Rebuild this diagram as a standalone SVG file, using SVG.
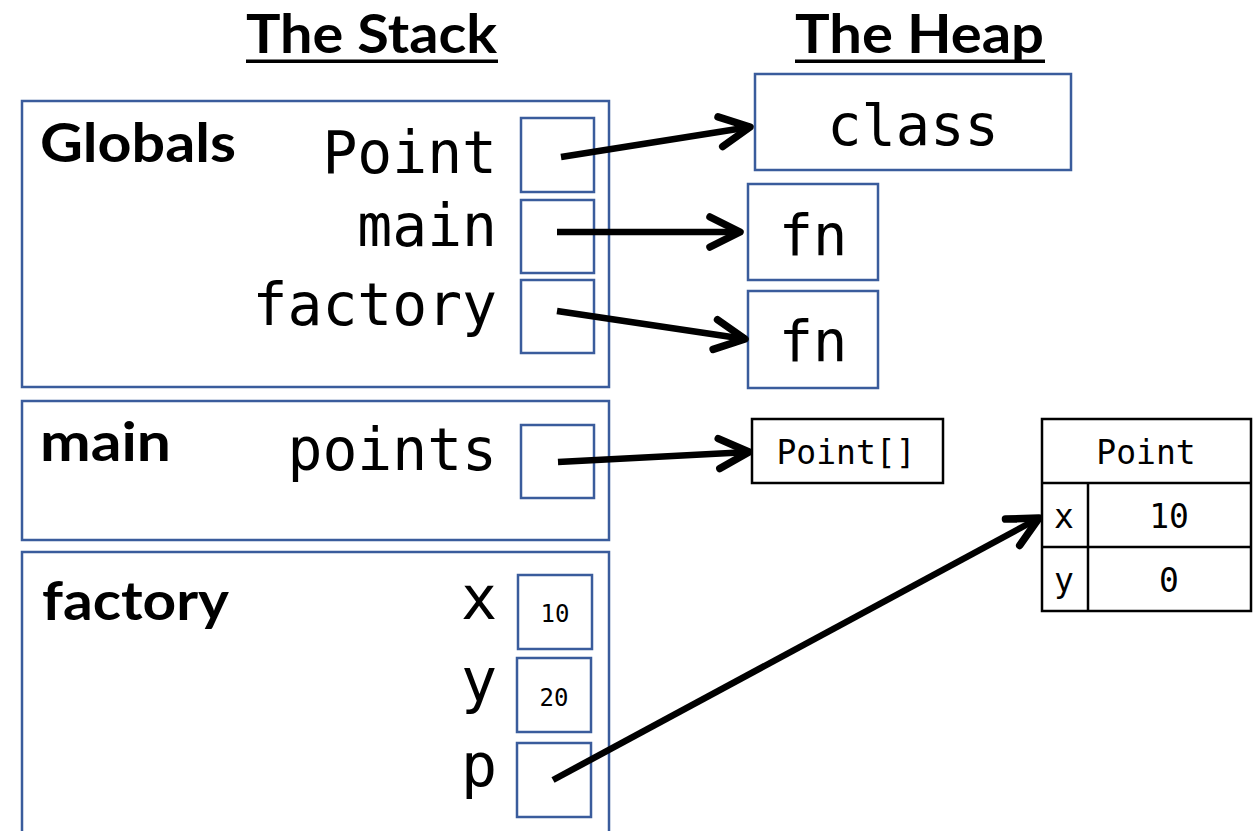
<svg xmlns="http://www.w3.org/2000/svg" width="1253" height="831" viewBox="0 0 1253 831">
<style>
.frame{fill:#fff;stroke:#3A5C9C;stroke-width:2.5}
.slot{fill:#fff;stroke:#3A5C9C;stroke-width:2.5}
.obj{fill:#fff;stroke:#000;stroke-width:2.5}
.title{font-family:Lato,"Liberation Sans",sans-serif;font-weight:bold;font-size:53px;fill:#000}
.fname{font-family:Lato,"Liberation Sans",sans-serif;font-weight:bold;font-size:54px;fill:#000}
.var{font-family:"DejaVu Sans Mono","Liberation Mono",monospace;font-size:58px;fill:#000;text-anchor:end}
.lv{font-family:"DejaVu Sans Mono","Liberation Mono",monospace;font-size:60px;fill:#000;text-anchor:end}
.big{font-family:"DejaVu Sans Mono","Liberation Mono",monospace;font-size:57px;fill:#000;text-anchor:middle}
.small{font-family:"DejaVu Sans Mono","Liberation Mono",monospace;font-size:24px;fill:#000;text-anchor:middle}
.mid{font-family:"DejaVu Sans Mono","Liberation Mono",monospace;font-size:33px;fill:#000;text-anchor:middle}
.ptr{stroke:#000;stroke-width:6.5;fill:none;marker-end:url(#head)}
</style>
<defs>
<marker id="head" markerUnits="userSpaceOnUse" markerWidth="50" markerHeight="50" viewBox="-40 -25 50 50" refX="0" refY="0" orient="auto">
<path d="M-30,-15 L0,0 L-30,15" fill="none" stroke="#000" stroke-width="7.5" stroke-linecap="round" stroke-linejoin="round"/>
</marker>
</defs>
<rect width="1253" height="831" fill="#fff"/>
<g id="titles">
<text class="title" x="246" y="53" textLength="251" lengthAdjust="spacingAndGlyphs">The Stack</text>
<rect x="246" y="59.5" width="252" height="3.5" fill="#000"/>
<text class="title" x="795" y="53" textLength="249" lengthAdjust="spacingAndGlyphs">The Heap</text>
<rect x="795" y="59.5" width="250" height="3.5" fill="#000"/>
</g>
<g id="globals">
<rect class="frame" x="22" y="101" width="587" height="286"/>
<text class="fname" x="40" y="162" textLength="196" lengthAdjust="spacingAndGlyphs">Globals</text>
<text class="var" x="497" y="173">Point</text>
<text class="var" x="497" y="246">main</text>
<text class="var" x="497" y="325">factory</text>
<rect class="slot" x="521" y="118" width="73" height="74"/>
<rect class="slot" x="521" y="200" width="73" height="73"/>
<rect class="slot" x="521" y="280" width="73" height="73"/>
</g>
<g id="main-frame">
<rect class="frame" x="22" y="401" width="587" height="139"/>
<text class="fname" x="40" y="461" textLength="131" lengthAdjust="spacingAndGlyphs">main</text>
<text class="var" x="497" y="470">points</text>
<rect class="slot" x="521" y="425" width="73" height="73"/>
</g>
<g id="factory-frame">
<rect class="frame" x="22" y="552" width="587" height="300"/>
<text class="fname" x="42" y="620" textLength="187" lengthAdjust="spacingAndGlyphs">factory</text>
<text class="lv" x="497" y="619">x</text>
<text class="lv" x="497" y="701">y</text>
<text class="lv" x="497" y="786">p</text>
<rect class="slot" x="518" y="575" width="74" height="74"/>
<text class="small" x="555" y="622">10</text>
<rect class="slot" x="517" y="658" width="74" height="74"/>
<text class="small" x="554" y="706">20</text>
<rect class="slot" x="517" y="743" width="74" height="74"/>
</g>
<g id="heap-class">
<rect class="slot" x="755" y="74" width="316" height="96"/>
<text class="big" x="913" y="145">class</text>
</g>
<g id="heap-fn-main">
<rect class="slot" x="748" y="184" width="130" height="96"/>
<text class="big" x="813" y="255">fn</text>
</g>
<g id="heap-fn-factory">
<rect class="slot" x="748" y="291" width="130" height="97"/>
<text class="big" x="813" y="361">fn</text>
</g>
<g id="heap-point-array">
<rect class="obj" x="752" y="419" width="191" height="64"/>
<text class="mid" x="846" y="464">Point[]</text>
</g>
<g id="heap-point-object">
<rect class="obj" x="1042" y="419" width="209" height="192"/>
<line x1="1042" y1="483" x2="1251" y2="483" stroke="#000" stroke-width="2.5"/>
<line x1="1042" y1="547" x2="1251" y2="547" stroke="#000" stroke-width="2.5"/>
<line x1="1088" y1="483" x2="1088" y2="611" stroke="#000" stroke-width="2.5"/>
<text class="mid" x="1146" y="464">Point</text>
<text class="mid" x="1064" y="528">x</text>
<text class="mid" x="1169" y="528">10</text>
<text class="mid" x="1064" y="592">y</text>
<text class="mid" x="1169" y="592">0</text>
</g>
<g id="connectors">
<line class="ptr" x1="561" y1="157" x2="750" y2="127"/>
<line class="ptr" x1="557" y1="232" x2="740" y2="232"/>
<line class="ptr" x1="557" y1="311" x2="745" y2="339"/>
<line class="ptr" x1="558" y1="462" x2="749" y2="452"/>
<line class="ptr" x1="553" y1="780" x2="1039" y2="518"/>
</g>
</svg>
